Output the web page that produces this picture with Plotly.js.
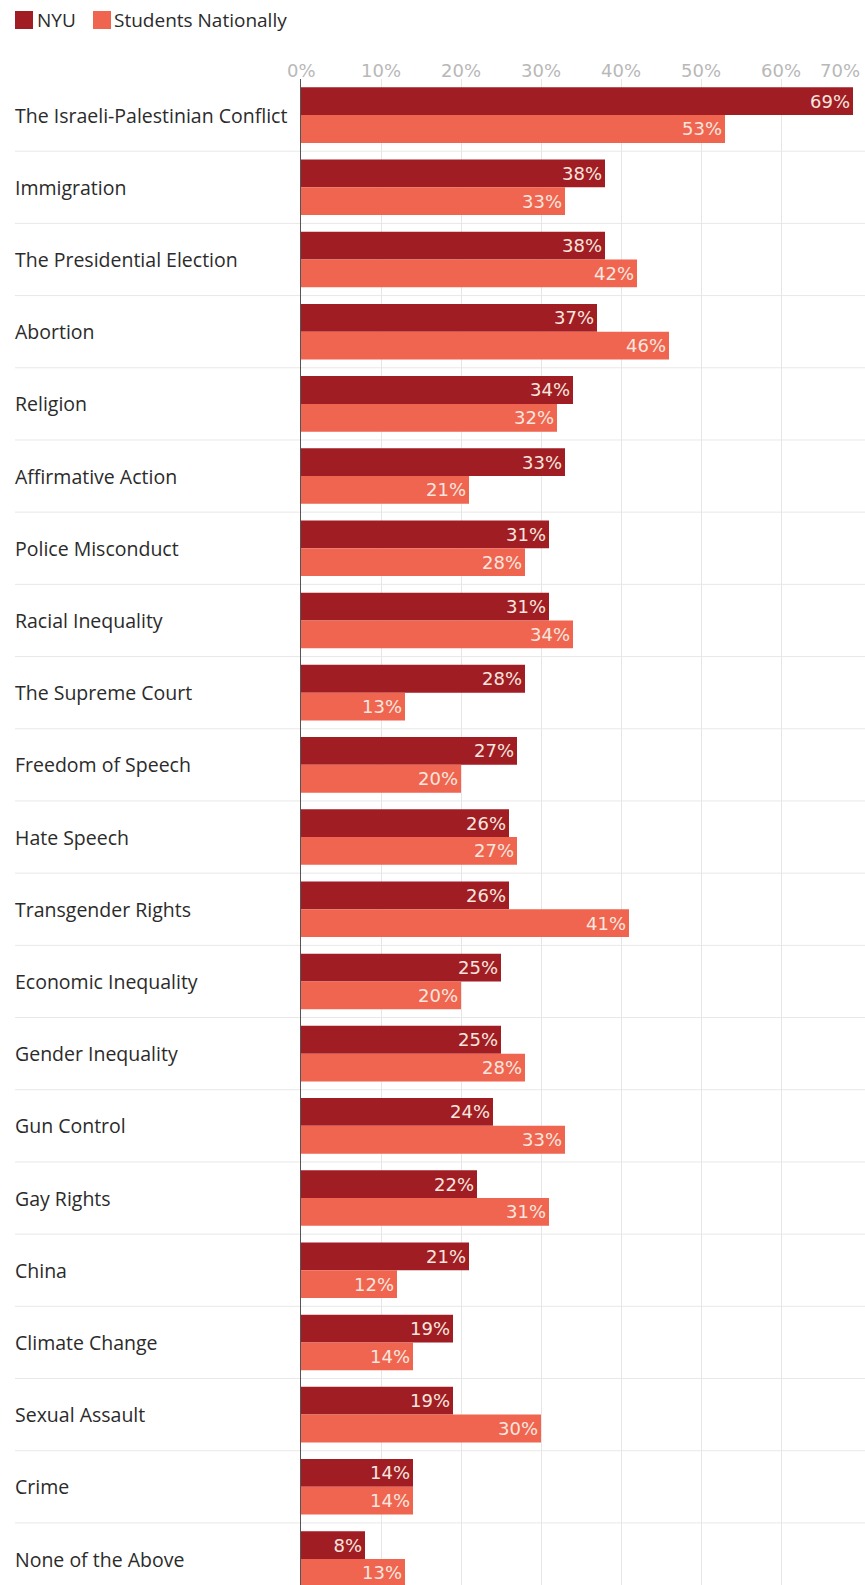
<!DOCTYPE html>
<html>
<head>
<meta charset="utf-8">
<script src="https://cdn.plot.ly/plotly-3.0.1.min.js"></script>
<style>
  html, body { margin: 0; padding: 0; background: #ffffff; }
  #chart { width: 865px; height: 1585px; }
</style>
</head>
<body>
<div id="chart"></div>
<script>
// ---- data ----
var categories = [
  "The Israeli-Palestinian Conflict",
  "Immigration",
  "The Presidential Election",
  "Abortion",
  "Religion",
  "Affirmative Action",
  "Police Misconduct",
  "Racial Inequality",
  "The Supreme Court",
  "Freedom of Speech",
  "Hate Speech",
  "Transgender Rights",
  "Economic Inequality",
  "Gender Inequality",
  "Gun Control",
  "Gay Rights",
  "China",
  "Climate Change",
  "Sexual Assault",
  "Crime",
  "None of the Above"
];
var seriesNames = ["NYU", "Students Nationally"];
var nyuValues = [69, 38, 38, 37, 34, 33, 31, 31, 28, 27, 26, 26, 25, 25, 24, 22, 21, 19, 19, 14, 8];
var nationalValues = [53, 33, 42, 46, 32, 21, 28, 34, 13, 20, 27, 41, 20, 28, 33, 31, 12, 14, 30, 14, 13];
var tickValues = [0, 10, 20, 30, 40, 50, 60, 70];
var tickLabels = ["0%", "10%", "20%", "30%", "40%", "50%", "60%", "70%"];

// ---- styling / layout constants ----
var W = 865, H = 1585;
var M = {l: 301, r: 4, t: 79, b: 0};
var plotW = W - M.l - M.r, plotH = H - M.t - M.b;
var colors = ["#a01d24", "#ef6550"];
var labelFont = "'Open Sans', 'Liberation Sans', sans-serif";
var numFont = "'DejaVu Sans', sans-serif";
function pxX(px) { return (px - M.l) / plotW; }
function pxY(py) { return 1 - (py - M.t) / plotH; }

var seriesValues = [nyuValues, nationalValues];
var traces = seriesNames.map(function (name, k) {
  return {
    type: "bar",
    orientation: "h",
    name: name,
    y: categories,
    x: seriesValues[k],
    marker: {color: colors[k], line: {width: 0}},
    text: seriesValues[k].map(function (v) { return v + "%"; }),
    textposition: "inside",
    insidetextanchor: "end",
    textangle: 0,
    constraintext: "none",
    cliponaxis: false,
    textfont: {family: numFont, size: 18, color: "#f8e6df"},
    hoverinfo: "skip",
    showlegend: false
  };
});

var shapes = [];
var annotations = [];

// row separators
for (var i = 0; i < categories.length - 1; i++) {
  shapes.push({
    type: "line", xref: "paper", yref: "y",
    x0: pxX(15), x1: pxX(865), y0: i + 0.5, y1: i + 0.5,
    line: {color: "#e8e8e8", width: 1}, layer: "below"
  });
}

// category labels (left aligned)
categories.forEach(function (c) {
  annotations.push({
    text: c, xref: "paper", yref: "y", x: pxX(14), y: c,
    xanchor: "left", yanchor: "middle", showarrow: false, borderpad: 0,
    font: {family: labelFont, size: 19.5, color: "#2b2b2b"}
  });
});

// x tick labels on top (last one right aligned to its gridline)
tickValues.forEach(function (v, j) {
  annotations.push({
    text: tickLabels[j], xref: "x", yref: "paper",
    x: v, y: pxY(70),
    xanchor: j === tickValues.length - 1 ? "right" : "center", yanchor: "middle",
    showarrow: false, borderpad: 0, font: {family: numFont, size: 18, color: "#b8b8b8"}
  });
});

// legend (manual)
var legendPos = [{sq: 15, tx: 36}, {sq: 93, tx: 113}];
seriesNames.forEach(function (name, k) {
  shapes.push({
    type: "rect", xref: "paper", yref: "paper",
    x0: pxX(legendPos[k].sq), x1: pxX(legendPos[k].sq + 18),
    y0: pxY(11), y1: pxY(29),
    fillcolor: colors[k], line: {width: 0}
  });
  annotations.push({
    text: name, xref: "paper", yref: "paper",
    x: pxX(legendPos[k].tx), y: pxY(20), xanchor: "left", yanchor: "middle",
    showarrow: false, borderpad: 0, font: {family: labelFont, size: 19, color: "#2b2b2b"}
  });
});

var layout = {
  width: W, height: H,
  margin: M,
  paper_bgcolor: "#ffffff",
  plot_bgcolor: "#ffffff",
  barmode: "group",
  bargap: 0.23,
  bargroupgap: 0,
  showlegend: false,
  xaxis: {
    side: "top",
    range: [0, 70],
    tickmode: "array",
    tickvals: tickValues,
    showticklabels: false,
    ticks: "",
    showgrid: true,
    gridcolor: "#e6e6e6",
    gridwidth: 1,
    zeroline: false,
    showline: false,
    fixedrange: true
  },
  yaxis: {
    type: "category",
    range: [20.36, -0.5],
    showticklabels: false,
    ticks: "",
    showgrid: false,
    zeroline: false,
    showline: true,
    linecolor: "#555555",
    linewidth: 1.5,
    fixedrange: true
  },
  shapes: shapes,
  annotations: annotations
};

Plotly.newPlot("chart", traces, layout, {displayModeBar: false, staticPlot: true});
</script>
</body>
</html>
